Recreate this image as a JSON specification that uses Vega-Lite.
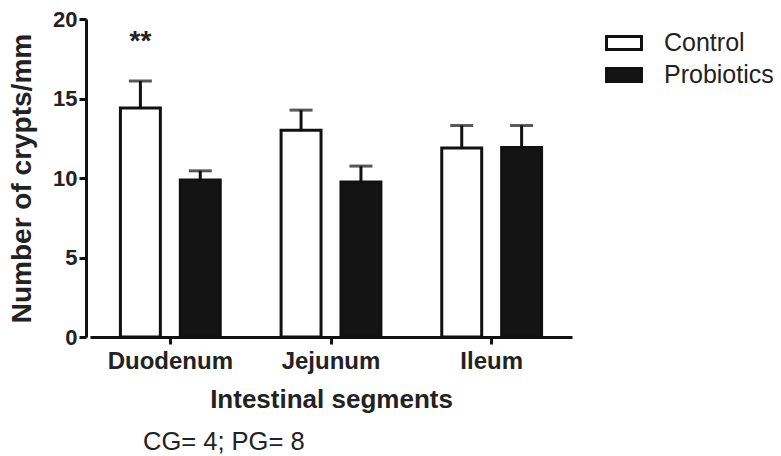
{
  "$schema": "https://vega.github.io/schema/vega-lite/v6.json",
  "width": 486,
  "height": 318,
  "autosize": {"type": "none"},
  "padding": {"left": 86, "top": 19, "right": 209, "bottom": 119},
  "background": "white",
  "title": {
    "text": "CG= 4; PG= 8",
    "orient": "bottom",
    "anchor": "start",
    "frame": "group",
    "dx": 57,
    "offset": 18,
    "font": "Liberation Sans",
    "fontSize": 25.5,
    "fontWeight": "normal",
    "color": "#222"
  },
  "config": {
    "view": {"stroke": null},
    "axis": {
      "domainColor": "#111",
      "domainWidth": 3,
      "tickColor": "#111",
      "tickWidth": 3,
      "tickSize": 7,
      "labelFont": "Liberation Sans",
      "labelFontWeight": "bold",
      "labelColor": "#222",
      "titleFont": "Liberation Sans",
      "titleFontWeight": "bold",
      "titleColor": "#222",
      "grid": false
    }
  },
  "data": {
    "values": [
      {"segment": "Duodenum", "group": "Control", "mean": 14.4, "upper": 16.1},
      {"segment": "Duodenum", "group": "Probiotics", "mean": 9.87, "upper": 10.45},
      {"segment": "Jejunum", "group": "Control", "mean": 13.0, "upper": 14.27},
      {"segment": "Jejunum", "group": "Probiotics", "mean": 9.75, "upper": 10.75},
      {"segment": "Ileum", "group": "Control", "mean": 11.88, "upper": 13.3},
      {"segment": "Ileum", "group": "Probiotics", "mean": 11.92, "upper": 13.3}
    ]
  },
  "encoding": {
    "x": {
      "field": "segment",
      "type": "nominal",
      "sort": ["Duodenum", "Jejunum", "Ileum"],
      "scale": {"paddingInner": 0, "paddingOuter": 0, "range": [4, 486]},
      "axis": {
        "labelAngle": 0,
        "labelFontSize": 24,
        "labelPadding": 5,
        "title": "Intestinal segments",
        "titleFontSize": 26,
        "titlePadding": 13
      }
    },
    "xOffset": {
      "field": "group",
      "type": "nominal",
      "sort": ["Control", "Probiotics"],
      "scale": {"paddingInner": 0.333, "paddingOuter": 0.508}
    }
  },
  "layer": [
    {
      "mark": {"type": "bar", "stroke": "#111", "strokeWidth": 3},
      "encoding": {
        "y": {
          "field": "mean",
          "type": "quantitative",
          "scale": {"domain": [0, 20], "nice": false},
          "axis": {
            "values": [0, 5, 10, 15, 20],
            "labelFontSize": 22,
            "labelPadding": 2,
            "title": "Number of crypts/mm",
            "titleFontSize": 28,
            "titlePadding": 16
          }
        },
        "fill": {
          "field": "group",
          "type": "nominal",
          "sort": ["Control", "Probiotics"],
          "scale": {"domain": ["Control", "Probiotics"], "range": ["#ffffff", "#141414"]},
          "legend": {
            "title": null,
            "orient": "none",
            "legendX": 519,
            "legendY": 5,
            "symbolType": "M-1,-0.37H1V0.37H-1Z",
            "symbolSize": 1225,
            "symbolStrokeColor": "#111",
            "symbolStrokeWidth": 3,
            "symbolOpacity": 1,
            "labelFont": "Liberation Sans",
            "labelFontSize": 25,
            "labelColor": "#222",
            "labelOffset": 21,
            "rowPadding": -3
          }
        }
      }
    },
    {
      "mark": {"type": "rule", "color": "#111", "strokeWidth": 3},
      "encoding": {
        "y": {"field": "mean", "type": "quantitative"},
        "y2": {"field": "upper"}
      }
    },
    {
      "mark": {"type": "tick", "color": "#111", "thickness": 3, "size": 23, "orient": "horizontal"},
      "encoding": {
        "y": {"field": "upper", "type": "quantitative"}
      }
    },
    {
      "data": {"values": [{"segment": "Duodenum", "group": "Control", "pos": 18.55, "label": "**"}]},
      "mark": {"type": "text", "font": "Liberation Sans", "fontSize": 28, "fontWeight": "bold", "color": "#222", "baseline": "middle"},
      "encoding": {
        "y": {"field": "pos", "type": "quantitative"},
        "text": {"field": "label"}
      }
    }
  ]
}
